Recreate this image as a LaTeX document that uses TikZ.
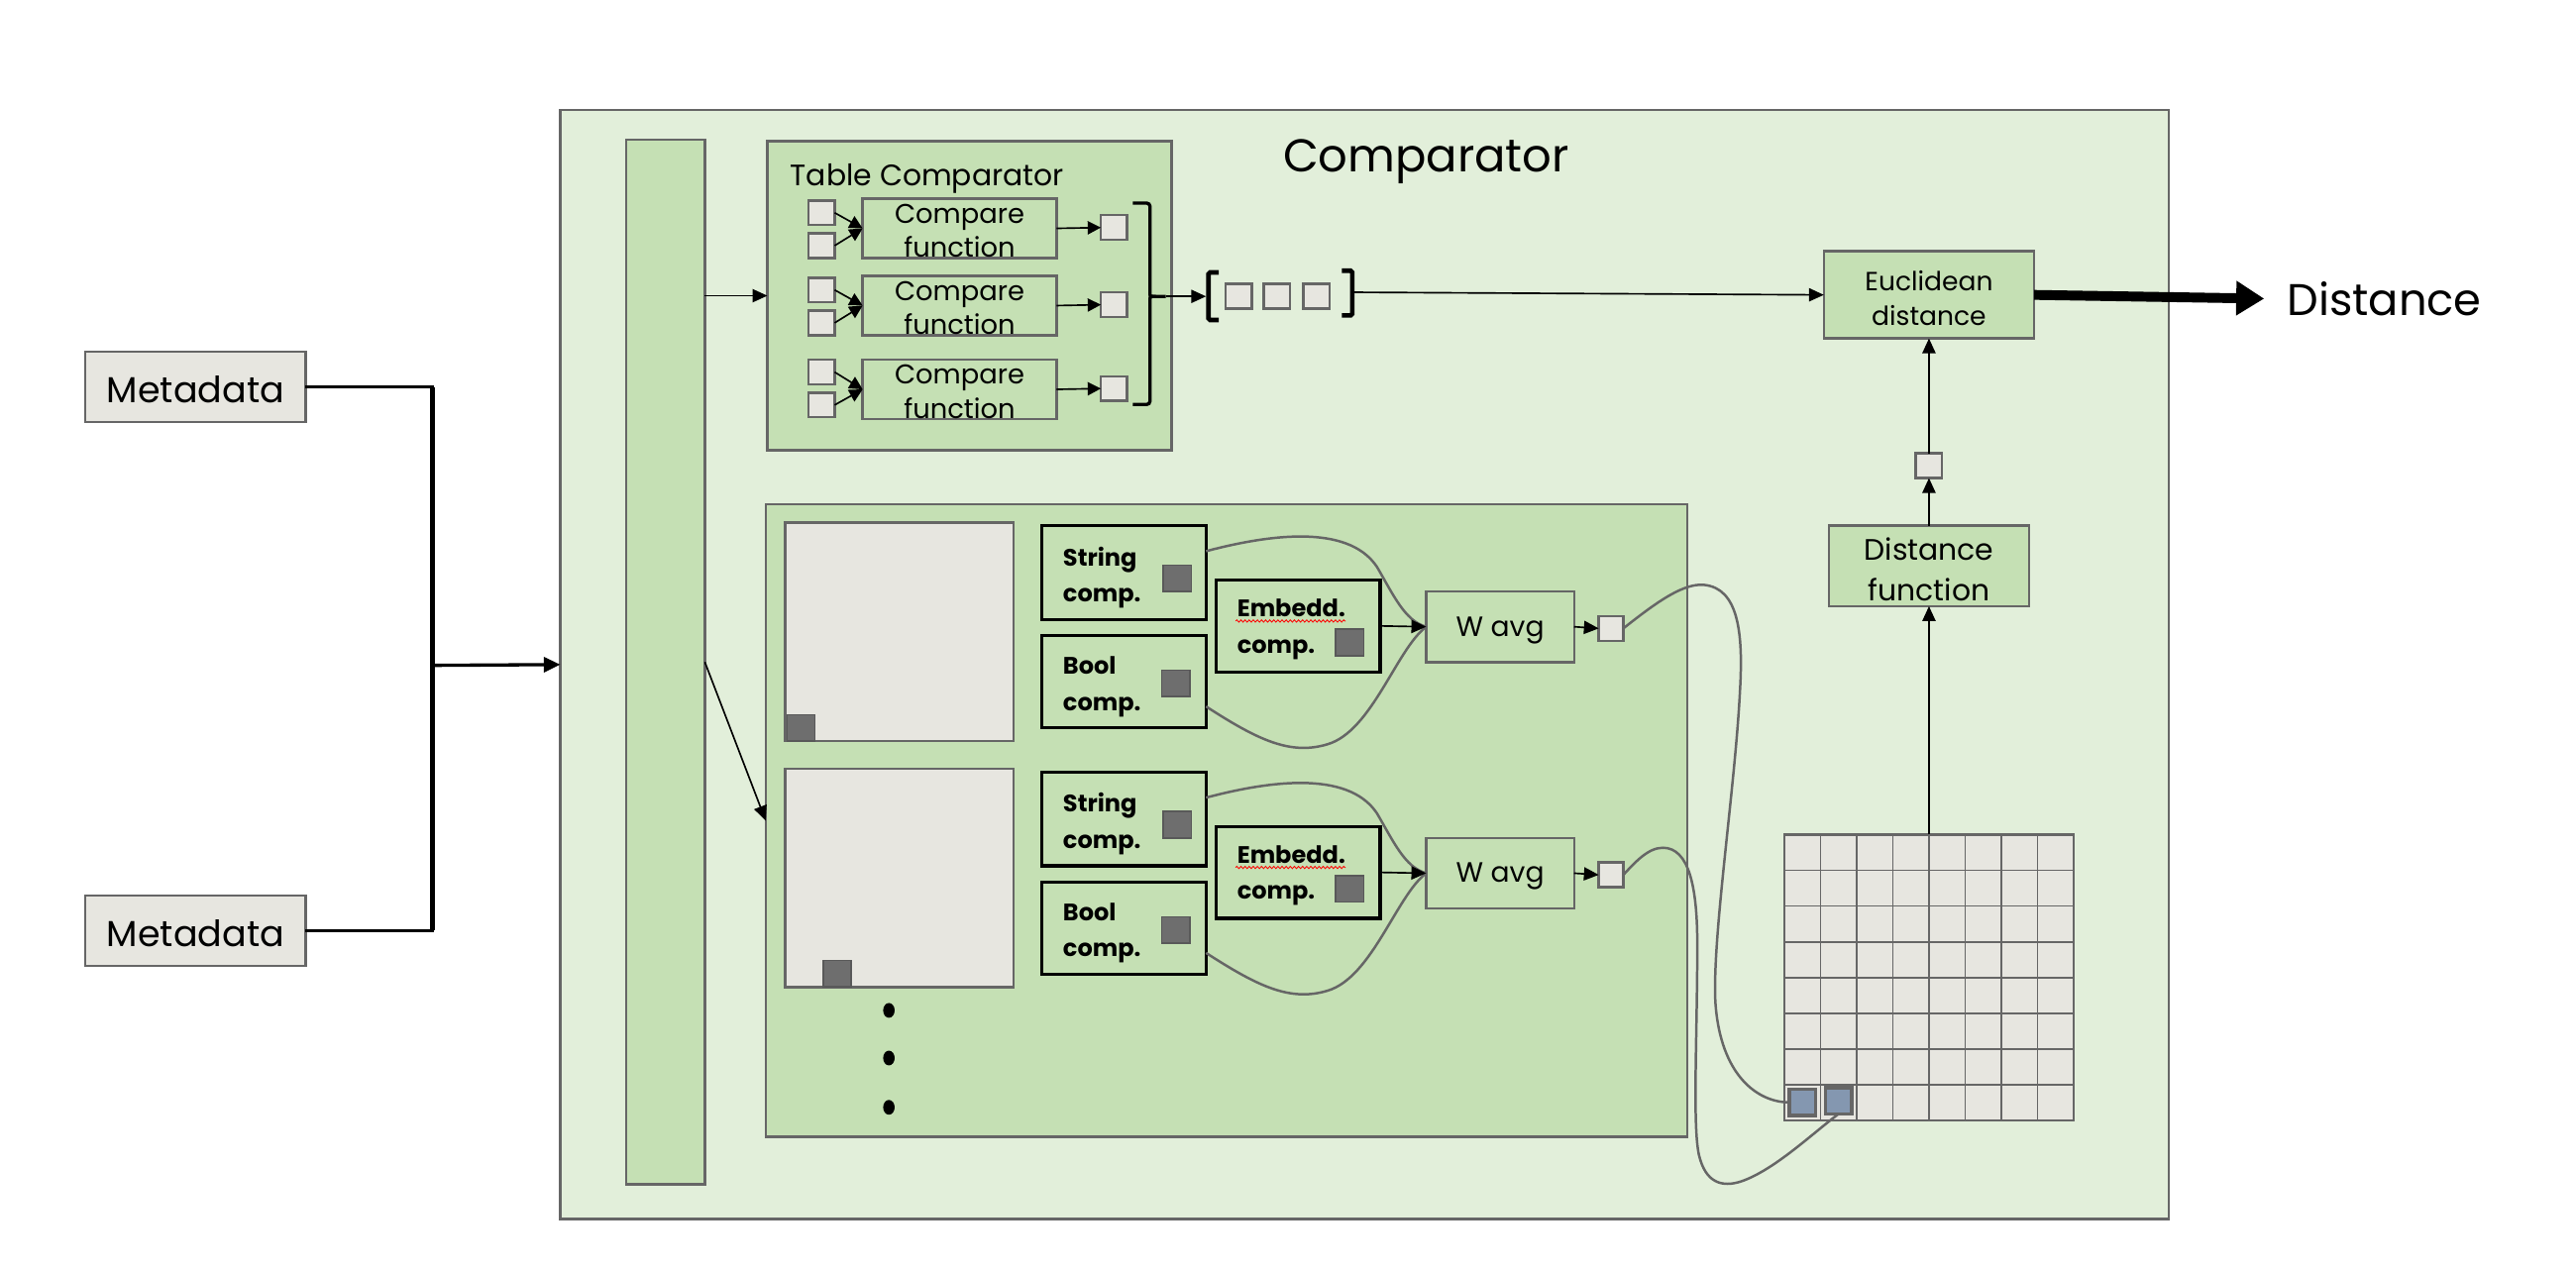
\documentclass[tikz,border=0pt]{standalone}
\usepackage{fontspec}
\setmainfont{Poppins}
\usetikzlibrary{arrows.meta,decorations.pathmorphing}
\definecolor{lgreen}{HTML}{E2EFDA}
\definecolor{mgreen}{HTML}{C5E0B4}
\definecolor{lgray}{HTML}{E7E6E0}
\definecolor{bgray}{HTML}{666666}
\definecolor{dsq}{HTML}{6E6E6E}
\definecolor{dsqb}{HTML}{595959}
\definecolor{bcell}{HTML}{8497B0}
\newcommand{\myfs}[2]{\fontsize{#1}{#2}\selectfont}
\begin{document}
\begin{tikzpicture}[x=1pt,y=-1pt,
  every node/.style={inner sep=0pt, outer sep=0pt},
  gbox/.style={draw=bgray, line width=1.5pt, fill=mgreen},
  wbox/.style={draw=bgray, line width=1.5pt, fill=lgray},
  kbox/.style={draw=black, line width=2pt, fill=mgreen, minimum width=100pt},
  ktext/.style={anchor=west, align=left, font=\bfseries\myfs{14.5}{22}},
  dk/.style={draw=dsqb, line width=1pt, fill=dsq, minimum width=17pt, minimum height=16pt},
  wsq/.style={wbox, minimum width=16pt, minimum height=15pt},
  arr/.style={draw=black, line width=1pt, -{Triangle[length=9pt,width=8pt]}},
  sarr/.style={draw=black, line width=1pt, -{Triangle[length=8pt,width=8pt]}},
  curve/.style={draw=bgray, line width=1.5pt},
  squig/.style={draw=red, line width=0.5pt, decorate, decoration={snake, amplitude=0.7pt, segment length=2.5pt}},
  brk/.style={draw=black, line width=2.8pt, rounded corners=1pt},
  cftext/.style={align=center, font=\myfs{16.5}{21}}
]
\useasboundingbox (0,0) rectangle (1567.8,773.7);

% outer comparator
\node[draw=bgray, line width=1.5pt, fill=lgreen, minimum width=979pt, minimum height=675pt] (outer) at (830.5,404.5) {};
\node[font=\myfs{28}{34}] (title) at (868,98.5) {Comparator};
\node[gbox, minimum width=48pt, minimum height=636pt] (bar) at (405,403) {};

% table comparator
\node[gbox, minimum width=246pt, minimum height=188pt] (tc) at (590,180) {};
\node[anchor=west, font=\myfs{18}{22}] (tctitle) at (481,108.5) {Table Comparator};
\node[gbox, minimum width=118pt, minimum height=36pt] (cf1) at (584,139) {};
\node[gbox, minimum width=118pt, minimum height=36pt] (cf2) at (584,186) {};
\node[gbox, minimum width=118pt, minimum height=36pt] (cf3) at (584,237) {};
\node[cftext] (cf1t) at ([yshift=-1.5pt]cf1.center) {Compare\\function};
\node[cftext] (cf2t) at ([yshift=-1.5pt]cf2.center) {Compare\\function};
\node[cftext] (cf3t) at ([yshift=-1.5pt]cf3.center) {Compare\\function};
\node[wsq] (a1) at (500,129.5) {};
\node[wsq] (b1) at (500,149.5) {};
\node[wsq] (a2) at (500,176.5) {};
\node[wsq] (b2) at (500,196.5) {};
\node[wsq] (a3) at (500,226.5) {};
\node[wsq] (b3) at (500,246.5) {};
\node[wsq] (o1) at (678,138.5) {};
\node[wsq] (o2) at (678,185.5) {};
\node[wsq] (o3) at (678,236.5) {};
\foreach \i in {1,2,3}{
  \draw[sarr] (a\i.east) -- (cf\i.west);
  \draw[sarr] (b\i.east) -- (cf\i.west);
  \draw[sarr] (cf\i.east) -- (o\i.west);
}
% brace
\draw[line width=2pt, rounded corners=2pt] (689.5,123.6) -- (699.9,123.6) -- (699.9,176) .. controls (699.9,180.4) .. (703.5,180.4) -- (709.5,180.4);
\draw[line width=2pt, rounded corners=2pt] (689.5,246.2) -- (699.9,246.2) -- (699.9,185) .. controls (699.9,180.4) .. (703.5,180.4);
\coordinate (btip) at (709.5,180.4);

% vector [ . . . ]
\draw[brk] (741.7,165.8) -- (735.5,165.8) -- (735.5,194.8) -- (741.7,194.8);
\coordinate (lbr) at (734,180.4);
\node[wsq] (v1) at (753.8,180.4) {};
\node[wsq] (v2) at (777.2,180.4) {};
\node[wsq] (v3) at (801.3,180.4) {};
\draw[brk] (816.7,164.8) -- (823,164.8) -- (823,192) -- (816.7,192);
\coordinate (rbr) at (824.4,177.9);
\draw[arr] (btip) -- (lbr);

% euclidean
\node[gbox, minimum width=128pt, minimum height=53pt] (eu) at (1174,179.5) {};
\node[align=center, font=\myfs{16}{21}] (eut) at ([yshift=-2pt]eu.center) {Euclidean\\distance};
\draw[arr] (rbr) -- (eu.west);
\node[anchor=west, font=\myfs{27}{32}] (dist) at (1392,182) {Distance};
\draw[line width=6pt, -{Triangle[length=17pt,width=20pt]}, shorten >=14pt] (eu.east) -- (dist.west);

\node[wsq] (sq) at (1174,283.5) {};
\node[gbox, minimum width=122pt, minimum height=49pt] (df) at (1174,344.5) {};
\node[align=center, font=\myfs{18}{25}] (dft) at ([yshift=-2pt]df.center) {Distance\\function};
\draw[arr] (sq.north) -- (eu.south);
\draw[arr] (df.north) -- (sq.south);

% matrix
\node[wbox, minimum width=176pt, minimum height=174pt] (mat) at (1174,595) {};
\foreach \i in {1,...,7}{
  \draw[bgray, line width=1pt] ({1086+22*\i},508) -- ({1086+22*\i},682);
  \draw[bgray, line width=1pt] (1086,{508+21.75*\i}) -- (1262,{508+21.75*\i});
}
\draw[bgray, line width=1.5pt] (1086,508) rectangle (1262,682);
\node[draw=bgray, line width=2pt, fill=bcell, minimum width=16pt, minimum height=16pt] (bc1) at (1097,671) {};
\node[draw=bgray, line width=2pt, fill=bcell, minimum width=16pt, minimum height=16pt] (bc2) at (1119,670) {};
\draw[arr] (mat.north) -- (df.south);

% metadata
\node[wbox, minimum width=134pt, minimum height=43pt] (m1) at (119,235.5) {};
\node[wbox, minimum width=134pt, minimum height=43pt] (m2) at (119,566.5) {};
\node[font=\myfs{22}{26}] (m1t) at ([yshift=-1.5pt]m1.center) {Metadata};
\node[font=\myfs{22}{26}] (m2t) at ([yshift=-1.5pt]m2.center) {Metadata};
\coordinate (jt) at (263,235.5);
\coordinate (jb) at (263,566.5);
\coordinate (j) at (263,405);
\draw[line width=2pt] (m1.east) -- (jt) -- (jb) -- (m2.east);
\draw[line width=3pt] (jt) -- (jb);
\draw[line width=2pt, -{Triangle[length=10pt,width=9pt]}] (j) -- (outer.west);

% bottom box
\node[gbox, minimum width=561pt, minimum height=385pt] (bb) at (746.5,499.5) {};
\draw[arr] (bar.east |- tc.west) -- (tc.west);
\draw[arr] (bar.east) -- (bb.west);

\foreach \d/\r in {0/1,150/2}{
  \node[wbox, minimum width=139pt, minimum height=133pt] (big\r) at (547.5,{384.5+\d}) {};
  \node[kbox, minimum height=57pt] (str\r) at (684,{348.5+\d}) {};
  \node[ktext] (strt\r) at ([xshift=13pt,yshift=-3pt]str\r.west) {String\\comp.};
  \node[dk] (strd\r) at (716.5,{352+\d}) {};
  \node[kbox, minimum height=56pt] (bool\r) at (684,{415+\d}) {};
  \node[ktext] (boolt\r) at ([xshift=13pt,yshift=-3pt]bool\r.west) {Bool\\comp.};
  \node[dk] (boold\r) at (715.5,{416+\d}) {};
  \node[kbox, minimum height=56pt] (emb\r) at (790,{381+\d}) {};
  \node[ktext] (embt\r) at ([xshift=13pt,yshift=-2pt]emb\r.west) {Embedd.\\comp.};
  \node[dk] (embd\r) at (821.5,{391+\d}) {};
  \draw[squig] (752,{378+\d}) -- (819,{378+\d});
  \node[gbox, minimum width=90pt, minimum height=43pt] (wav\r) at (913,{381.5+\d}) {};
  \node[font=\myfs{17}{20}] (wavt\r) at ([yshift=-2pt]wav\r.center) {W avg};
  \node[wbox, minimum width=15pt, minimum height=15pt] (out\r) at (980.5,{382.5+\d}) {};
  \draw[curve] ([yshift=13pt]str\r.east) .. controls (770,{326+\d}) and (820,{318+\d}) .. (838,{345+\d}) .. controls (848,{362+\d}) and (855,{378+\d}) .. (wav\r.west);
  \draw[curve] ([yshift=-15pt]bool\r.east) .. controls (765,{450+\d}) and (785,{460+\d}) .. (808,{453+\d}) .. controls (835,{445+\d}) and (850,{395+\d}) .. (wav\r.west);
  \draw[arr] (emb\r.east) -- (wav\r.west);
  \draw[arr] (wav\r.east) -- (out\r.west);
}
\node[dk] (bigd1) at (487.5,443) {};
\node[dk] (bigd2) at (509.5,592.5) {};

% dots
\fill (541,615) ellipse [x radius=3.5pt, y radius=4.5pt];
\fill (541,644) ellipse [x radius=3.5pt, y radius=4.5pt];
\fill (541,674) ellipse [x radius=3.5pt, y radius=4.5pt];

% curves to matrix
\draw[curve] (out1.east) .. controls (1010,365) and (1025,355) .. (1037,356) .. controls (1058,358) and (1061,385) .. (1059,420) .. controls (1056,480) and (1042,570) .. (1044,610) .. controls (1047,655) and (1070,671) .. (bc1.west);
\draw[curve] (out2.east) .. controls (995,525) and (1003,516) .. (1012,516) .. controls (1028,516) and (1033,540) .. (1033,575) .. controls (1033,630) and (1030,685) .. (1034,703) .. controls (1038,720) and (1048,723) .. (1060,719) .. controls (1080,712) and (1103,690) .. (bc2.south);
\end{tikzpicture}
\end{document}
